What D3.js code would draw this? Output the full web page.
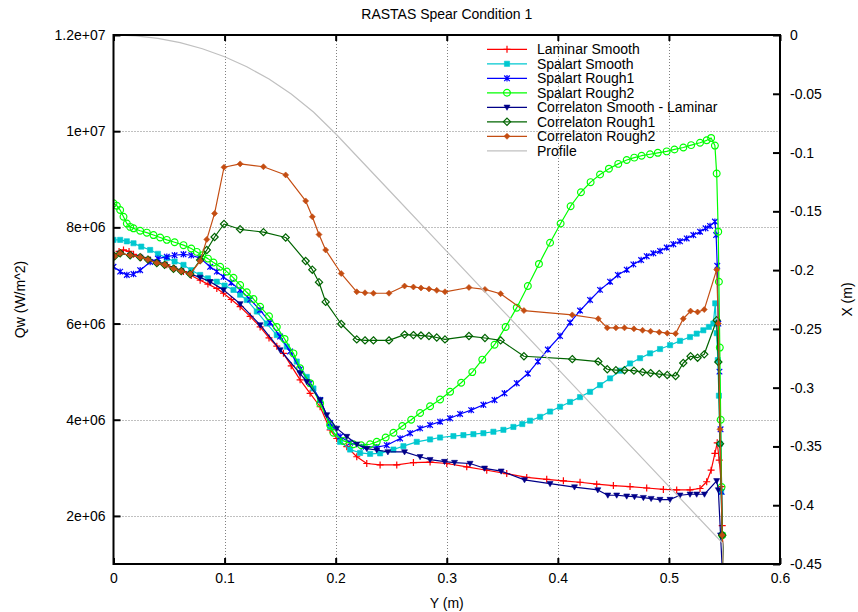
<!DOCTYPE html>
<html><head><meta charset="utf-8">
<script src="https://cdn.jsdelivr.net/npm/d3@7"></script>
<style>body{margin:0;background:#fff}svg{display:block;font-family:"Liberation Sans",Arial,sans-serif}</style>
</head><body><svg id="c" width="858" height="612"></svg>
<script>
const title = "RASTAS Spear Condition 1";
const xLabel = "Y (m)", yLabel = "Qw (W/m^2)", y2Label = "X (m)";
const xTicks = [0, 0.1, 0.2, 0.3, 0.4, 0.5, 0.6];
const xTickLabels = ["0", "0.1", "0.2", "0.3", "0.4", "0.5", "0.6"];
const yTicks = [2e6, 4e6, 6e6, 8e6, 1e7, 1.2e7];
const yTickLabels = ["2e+06", "4e+06", "6e+06", "8e+06", "1e+07", "1.2e+07"];
const y2Ticks = [0, -0.05, -0.1, -0.15, -0.2, -0.25, -0.3, -0.35, -0.4, -0.45];
const y2TickLabels = ["0", "-0.05", "-0.1", "-0.15", "-0.2", "-0.25", "-0.3", "-0.35", "-0.4", "-0.45"];
const seriesNames = ["Laminar Smooth", "Spalart Smooth", "Spalart Rough1", "Spalart Rough2",
  "Correlaton Smooth - Laminar", "Correlaton Rough1", "Correlaton Rough2", "Profile"];

// values: [Y (m), Qw in units of 1e6 W/m^2]
const laminarSmooth = [[0,7.39],[0.005,7.50],[0.009,7.53],[0.014,7.50],[0.018,7.44],[0.025,7.38],[0.033,7.32],[0.040,7.27],[0.048,7.22],[0.055,7.15],[0.063,7.08],[0.070,7.00],[0.078,6.90],[0.085,6.82],[0.093,6.73],[0.099,6.63],[0.106,6.50],[0.114,6.35],[0.123,6.15],[0.132,5.93],[0.140,5.70],[0.147,5.53],[0.153,5.38],[0.160,5.12],[0.168,4.83],[0.177,4.55],[0.186,4.27],[0.195,3.79],[0.201,3.61],[0.210,3.44],[0.219,3.23],[0.228,3.09],[0.240,3.06],[0.255,3.06],[0.270,3.11],[0.285,3.12],[0.300,3.09],[0.318,3.02],[0.336,2.95],[0.354,2.88],[0.372,2.80],[0.390,2.76],[0.405,2.73],[0.420,2.70],[0.435,2.66],[0.450,2.63],[0.465,2.61],[0.480,2.58],[0.495,2.55],[0.507,2.54],[0.519,2.54],[0.528,2.57],[0.534,2.71],[0.538,2.95],[0.5414,3.30],[0.5435,3.52],[0.5453,3.16],[0.5474,2.61],[0.548,1.8],[0.549,0.9]];
const spalartSmooth = [[0,7.74],[0.006,7.74],[0.012,7.71],[0.018,7.67],[0.025,7.60],[0.033,7.53],[0.040,7.45],[0.048,7.36],[0.055,7.29],[0.063,7.22],[0.070,7.11],[0.078,7.01],[0.085,6.94],[0.093,6.87],[0.100,6.79],[0.108,6.70],[0.114,6.60],[0.120,6.49],[0.129,6.25],[0.138,6.00],[0.147,5.76],[0.156,5.52],[0.165,5.21],[0.174,4.89],[0.180,4.65],[0.186,4.41],[0.195,3.85],[0.204,3.54],[0.213,3.38],[0.222,3.31],[0.231,3.29],[0.240,3.30],[0.252,3.38],[0.261,3.45],[0.273,3.54],[0.285,3.59],[0.294,3.63],[0.306,3.66],[0.315,3.68],[0.324,3.70],[0.333,3.72],[0.342,3.75],[0.351,3.79],[0.360,3.85],[0.368,3.91],[0.375,3.98],[0.384,4.06],[0.393,4.17],[0.402,4.27],[0.411,4.37],[0.420,4.47],[0.429,4.58],[0.438,4.72],[0.447,4.86],[0.456,5.02],[0.465,5.17],[0.474,5.28],[0.483,5.38],[0.492,5.47],[0.501,5.55],[0.510,5.64],[0.519,5.72],[0.525,5.79],[0.531,5.86],[0.536,5.93],[0.540,6.00],[0.5417,6.42],[0.543,5.80],[0.544,5.24],[0.545,4.50],[0.546,3.50],[0.547,2.50],[0.548,1.60],[0.549,0.9]];
const spalartRough1 = [[0,7.18],[0.006,7.08],[0.012,7.01],[0.018,7.03],[0.024,7.11],[0.033,7.28],[0.040,7.35],[0.048,7.39],[0.055,7.42],[0.063,7.44],[0.070,7.42],[0.078,7.36],[0.087,7.18],[0.093,7.08],[0.099,6.97],[0.106,6.85],[0.114,6.70],[0.123,6.50],[0.132,6.28],[0.141,6.02],[0.150,5.73],[0.159,5.42],[0.168,5.05],[0.177,4.76],[0.186,4.41],[0.195,3.93],[0.204,3.65],[0.213,3.52],[0.225,3.44],[0.237,3.43],[0.246,3.47],[0.258,3.61],[0.267,3.72],[0.276,3.82],[0.285,3.89],[0.294,3.96],[0.303,4.03],[0.312,4.12],[0.322,4.20],[0.333,4.31],[0.343,4.41],[0.352,4.55],[0.363,4.76],[0.373,4.96],[0.382,5.21],[0.391,5.46],[0.402,5.74],[0.411,6.02],[0.420,6.27],[0.429,6.49],[0.438,6.70],[0.447,6.87],[0.454,7.01],[0.462,7.12],[0.468,7.23],[0.475,7.32],[0.480,7.40],[0.486,7.46],[0.492,7.51],[0.498,7.58],[0.504,7.65],[0.510,7.71],[0.516,7.77],[0.522,7.84],[0.528,7.91],[0.533,7.98],[0.537,8.03],[0.5414,8.12],[0.5425,7.84],[0.5435,7.20],[0.5445,6.00],[0.5455,5.00],[0.5465,3.80],[0.5475,2.50],[0.548,1.60],[0.549,0.9]];
const spalartRough2 = [[0,8.50],[0.003,8.45],[0.006,8.36],[0.009,8.22],[0.012,8.08],[0.015,8.01],[0.018,7.98],[0.024,7.93],[0.030,7.89],[0.036,7.84],[0.042,7.79],[0.048,7.74],[0.055,7.69],[0.063,7.63],[0.070,7.56],[0.075,7.49],[0.080,7.42],[0.085,7.35],[0.090,7.27],[0.096,7.18],[0.102,7.08],[0.108,6.95],[0.114,6.80],[0.120,6.65],[0.126,6.51],[0.132,6.35],[0.140,6.15],[0.147,5.93],[0.154,5.68],[0.162,5.38],[0.168,5.07],[0.177,4.76],[0.186,4.34],[0.195,3.89],[0.198,3.73],[0.207,3.56],[0.216,3.49],[0.223,3.47],[0.231,3.49],[0.237,3.54],[0.245,3.63],[0.252,3.73],[0.260,3.87],[0.268,4.00],[0.276,4.14],[0.285,4.28],[0.294,4.42],[0.303,4.58],[0.313,4.77],[0.323,4.99],[0.332,5.25],[0.343,5.56],[0.353,5.93],[0.363,6.33],[0.373,6.78],[0.383,7.24],[0.393,7.68],[0.4025,8.08],[0.4115,8.44],[0.4208,8.73],[0.4295,8.94],[0.438,9.10],[0.446,9.22],[0.4544,9.32],[0.462,9.40],[0.4688,9.45],[0.4754,9.49],[0.483,9.52],[0.490,9.55],[0.498,9.58],[0.505,9.62],[0.513,9.66],[0.520,9.71],[0.528,9.76],[0.534,9.81],[0.538,9.86],[0.5414,9.70],[0.543,9.12],[0.5444,7.91],[0.545,6.87],[0.5458,5.50],[0.5466,4.00],[0.5474,2.60],[0.548,1.60],[0.549,0.9]];
const correlatonStart = [[0.001,7.40],[0.006,7.46],[0.015,7.42],[0.024,7.38],[0.031,7.33],[0.039,7.26],[0.046,7.22],[0.054,7.14],[0.061,7.09],[0.069,7.03]];
const correlatonSmoothLaminar = correlatonStart.concat([[0.078,6.96],[0.087,6.87],[0.099,6.70],[0.114,6.41],[0.132,5.97],[0.150,5.45],[0.168,4.96],[0.174,4.79],[0.186,4.41],[0.192,4.10],[0.201,3.82],[0.210,3.65],[0.219,3.49],[0.228,3.40],[0.237,3.37],[0.247,3.33],[0.262,3.33],[0.276,3.23],[0.285,3.17],[0.298,3.13],[0.307,3.11],[0.321,3.09],[0.334,2.99],[0.349,2.93],[0.370,2.75],[0.393,2.67],[0.415,2.60],[0.436,2.54],[0.445,2.43],[0.453,2.43],[0.462,2.41],[0.469,2.40],[0.477,2.38],[0.484,2.36],[0.492,2.34],[0.501,2.34],[0.510,2.43],[0.519,2.45],[0.525,2.45],[0.532,2.45],[0.543,2.73],[0.5445,2.54],[0.5465,1.60],[0.548,0.9]]);
const correlatonRough1 = correlatonStart.concat([[0.078,7.32],[0.084,7.53],[0.091,7.80],[0.0995,8.07],[0.114,7.96],[0.135,7.90],[0.155,7.79],[0.173,7.30],[0.179,7.12],[0.185,6.86],[0.191,6.45],[0.205,5.99],[0.219,5.67],[0.2264,5.65],[0.234,5.65],[0.248,5.65],[0.262,5.77],[0.270,5.76],[0.2768,5.75],[0.284,5.74],[0.291,5.71],[0.2984,5.67],[0.320,5.74],[0.3344,5.70],[0.3485,5.65],[0.3695,5.32],[0.413,5.26],[0.4364,5.21],[0.4445,5.05],[0.4523,5.03],[0.460,5.03],[0.4685,5.02],[0.4763,4.99],[0.4835,4.97],[0.4913,4.95],[0.4985,4.93],[0.506,4.91],[0.5129,5.18],[0.5195,5.32],[0.5258,5.29],[0.5318,5.36],[0.543,6.07],[0.5445,5.20],[0.546,3.50],[0.548,1.60],[0.549,0.9]]);
const correlatonRough2 = correlatonStart.concat([[0.078,7.30],[0.084,7.75],[0.091,8.29],[0.0995,9.25],[0.114,9.32],[0.135,9.26],[0.155,9.09],[0.173,8.55],[0.179,8.22],[0.185,7.85],[0.191,7.53],[0.205,7.04],[0.219,6.66],[0.2264,6.64],[0.234,6.63],[0.248,6.63],[0.262,6.78],[0.270,6.76],[0.2768,6.74],[0.284,6.72],[0.291,6.69],[0.2984,6.66],[0.320,6.75],[0.3344,6.71],[0.3485,6.62],[0.3695,6.27],[0.413,6.18],[0.4364,6.10],[0.4445,5.91],[0.4523,5.91],[0.460,5.91],[0.4685,5.89],[0.4763,5.86],[0.4835,5.84],[0.4913,5.82],[0.4985,5.80],[0.506,5.79],[0.5129,6.10],[0.5195,6.26],[0.5258,6.24],[0.5318,6.29],[0.543,7.12],[0.5445,6.00],[0.546,3.80],[0.548,1.60],[0.549,0.9]]);
// profile: [Y (m), X (m)] on right axis
const profile = [[0,0],[0.02,-0.0007],[0.04,-0.0029],[0.06,-0.0065],[0.08,-0.0117],[0.10,-0.0185],[0.12,-0.0270],[0.14,-0.0375],[0.16,-0.0502],[0.18,-0.0655],[0.20,-0.084],[0.25,-0.134],[0.30,-0.184],[0.35,-0.234],[0.40,-0.284],[0.45,-0.334],[0.50,-0.384],[0.548,-0.432],[0.549,-0.45]];

const QUNIT = 1e6;
const seriesData = [laminarSmooth, spalartSmooth, spalartRough1, spalartRough2, correlatonSmoothLaminar, correlatonRough1, correlatonRough2];
const colors = ["#ff0000", "#00c8d0", "#0000ff", "#00ff00", "#000088", "#006400", "#c44d12", "#c0c0c0"];
const markers = ["plus", "square", "star", "circle", "tri", "diamondOpen", "diamondFill", null];

const W = 858, H = 612, L = 113.5, R = 780, T = 35, B = 564;
const x = d3.scaleLinear([0, 0.6], [L, R]);
const y = d3.scaleLinear([1e6, 1.2e7], [B, T]);
const y2 = d3.scaleLinear([-0.45, 0], [B, T]);
const svg = d3.select("#c");

svg.append("defs").append("clipPath").attr("id", "clip").append("rect")
  .attr("x", L).attr("y", T).attr("width", R - L).attr("height", B - T);

// grid
const grid = svg.append("g").attr("stroke", "#808080").attr("stroke-width", 1).attr("stroke-dasharray", "1,2");
grid.selectAll("line.v").data(xTicks.filter(d => d > 0 && d < 0.6)).join("line")
  .attr("x1", d => Math.round(x(d)) + 0.5).attr("x2", d => Math.round(x(d)) + 0.5).attr("y1", T).attr("y2", B);
grid.selectAll("line.h").data(yTicks.filter(d => d < 1.2e7)).join("line")
  .attr("y1", d => Math.round(y(d)) + 0.5).attr("y2", d => Math.round(y(d)) + 0.5).attr("x1", L).attr("x2", R);

function markerPath(type) {
  switch (type) {
    case "plus": return "M-3.5,0H3.5M0,-3.5V3.5";
    case "square": return "M-2.6,-2.6H2.6V2.6H-2.6Z";
    case "star": return "M-2.8,-2.8L2.8,2.8M-2.8,2.8L2.8,-2.8M0,-3.2V3.2";
    case "circle": return d3.symbol(d3.symbolCircle, 36)();
    case "tri": return "M-3,-2.2L3,-2.2L0,3Z";
    case "diamondOpen": return "M0,-3.6L3.6,0L0,3.6L-3.6,0Z";
    case "diamondFill": return "M0,-3L3,0L0,3L-3,0Z";
  }
}
function styleMarker(sel, type, color) {
  const filled = type === "square" || type === "tri" || type === "diamondFill";
  sel.attr("d", markerPath(type))
    .attr("fill", filled ? color : "none")
    .attr("stroke", color)
    .attr("stroke-width", filled ? 0.6 : 1.2);
}

const plot = svg.append("g").attr("clip-path", "url(#clip)");
const line = d3.line().x(d => x(d[0])).y(d => y(d[1] * QUNIT));
seriesData.forEach((data, i) => {
  const g = plot.append("g");
  g.append("path").datum(data).attr("d", line).attr("fill", "none")
    .attr("stroke", colors[i]).attr("stroke-width", 1.2).attr("stroke-linejoin", "round");
  g.selectAll("path.m").data(data).join("path").attr("class", "m")
    .attr("transform", d => `translate(${x(d[0])},${y(d[1] * QUNIT)})`)
    .call(styleMarker, markers[i], colors[i]);
});
const line2 = d3.line().x(d => x(d[0])).y(d => y2(d[1]));
plot.append("path").datum(profile).attr("d", line2).attr("fill", "none")
  .attr("stroke", colors[7]).attr("stroke-width", 1.2);

// axes
const fs = "14px";
const axB = svg.append("g").attr("transform", `translate(0,${B})`)
  .call(d3.axisBottom(x).tickValues(xTicks).tickSize(-6).tickPadding(9).tickFormat((d, i) => xTickLabels[i]));
const axT = svg.append("g").attr("transform", `translate(0,${T})`)
  .call(d3.axisTop(x).tickValues(xTicks).tickSize(-6).tickFormat(""));
const axL = svg.append("g").attr("transform", `translate(${L},0)`)
  .call(d3.axisLeft(y).tickValues(yTicks).tickSize(-7).tickPadding(8).tickFormat((d, i) => yTickLabels[i]));
const axR = svg.append("g").attr("transform", `translate(${R},0)`)
  .call(d3.axisRight(y2).tickValues(y2Ticks).tickSize(-7).tickPadding(10).tickFormat((d, i) => y2TickLabels[i]));
[axB, axT, axL, axR].forEach(a => {
  a.select(".domain").remove();
  a.selectAll(".tick line").attr("stroke", "#000").attr("stroke-width", 2);
  a.selectAll(".tick text").attr("fill", "#000").style("font-size", fs).style("font-family", '"Liberation Sans",Arial,sans-serif');
});

// border
svg.append("rect").attr("x", L).attr("y", T).attr("width", R - L).attr("height", B - T)
  .attr("fill", "none").attr("stroke", "#000").attr("stroke-width", 2);

// labels
svg.append("text").attr("x", (L + R) / 2).attr("y", 19).attr("text-anchor", "middle").style("font-size", fs).text(title);
svg.append("text").attr("x", (L + R) / 2).attr("y", 608).attr("text-anchor", "middle").style("font-size", fs).text(xLabel);
svg.append("text").attr("transform", `translate(25,${(T + B) / 2}) rotate(-90)`).attr("text-anchor", "middle").style("font-size", fs).text(yLabel);
svg.append("text").attr("transform", `translate(852,${(T + B) / 2}) rotate(-90)`).attr("text-anchor", "middle").style("font-size", fs).text(y2Label);

// legend
const lg = svg.append("g");
seriesNames.forEach((name, i) => {
  const yy = 49.3 + i * 14.5;
  lg.append("line").attr("x1", 487).attr("x2", 527).attr("y1", yy).attr("y2", yy)
    .attr("stroke", colors[i]).attr("stroke-width", 1.2);
  if (markers[i]) lg.append("path").attr("transform", `translate(507,${yy})`).call(styleMarker, markers[i], colors[i]);
  lg.append("text").attr("x", 537).attr("y", yy + 5).style("font-size", fs).text(name);
});
</script></body></html>
